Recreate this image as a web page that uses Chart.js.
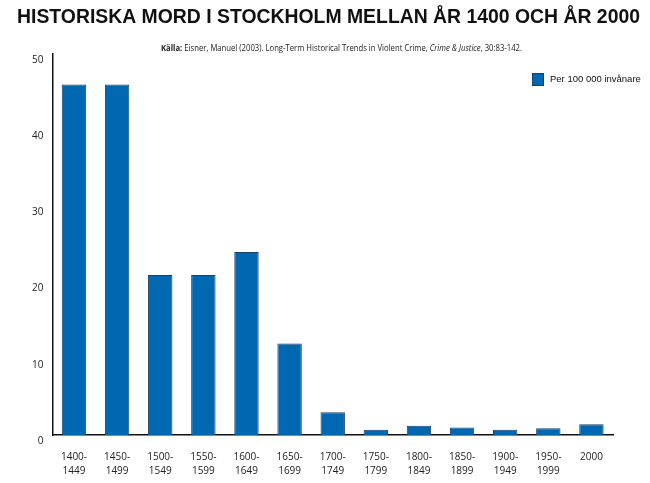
<!DOCTYPE html>
<html>
<head>
<meta charset="utf-8">
<script src="https://cdn.jsdelivr.net/npm/chart.js@4"></script>
<style>
  html, body { margin: 0; padding: 0; background: #fff; }
  #wrap { width: 650px; height: 483px; }
</style>
</head>
<body>
<div id="wrap"><canvas id="chart" width="650" height="483"></canvas></div>
<script>
const periods = [
  ['1400-', '1449'], ['1450-', '1499'], ['1500-', '1549'], ['1550-', '1599'],
  ['1600-', '1649'], ['1650-', '1699'], ['1700-', '1749'], ['1750-', '1799'],
  ['1800-', '1849'], ['1850-', '1899'], ['1900-', '1949'], ['1950-', '1999'],
  '2000'
];
const murderRate = [46, 46, 21, 21, 24, 12, 3, 0.7, 1.2, 1.0, 0.7, 0.9, 1.4];
const seriesName = 'Per 100 000 invånare';
const chartTitle = 'HISTORISKA MORD I STOCKHOLM MELLAN ÅR 1400 OCH ÅR 2000';
const sourceParts = [
  { text: 'Källa: ', style: 'bold' },
  { text: 'Eisner, Manuel (2003). Long-Term Historical Trends in Violent Crime, ', style: '' },
  { text: 'Crime & Justice', style: 'italic' },
  { text: ', 30:83-142.', style: '' }
];

const barBlue = '#0067b1';
const barEdge = '#1d3f66';

// title + source line; the original uses a narrow face, so both are squeezed to fit
const headerText = {
  id: 'headerText',
  afterDraw(chart) {
    const ctx = chart.ctx;
    ctx.save();
    ctx.fillStyle = '#111';
    ctx.textAlign = 'center';
    ctx.textBaseline = 'middle';
    ctx.font = 'bold 21px "Liberation Sans", Arial, sans-serif';
    ctx.fillText(chartTitle, 328.5, 17, 623);
    ctx.restore();

    const size = 9;
    let total = 0;
    sourceParts.forEach(p => {
      ctx.font = (p.style ? p.style + ' ' : '') + size + 'px "Open Sans"';
      p.w = ctx.measureText(p.text).width;
      total += p.w;
    });
    const sx = 361 / total;
    ctx.save();
    ctx.translate(161, 48);
    ctx.scale(sx, 1);
    ctx.fillStyle = '#222';
    ctx.textBaseline = 'middle';
    let x = 0;
    sourceParts.forEach(p => {
      ctx.font = (p.style ? p.style + ' ' : '') + size + 'px "Open Sans"';
      ctx.fillText(p.text, x, 0);
      x += p.w;
    });
    ctx.restore();
  }
};

// legend sits inside the plot, top right
const boxLegend = {
  id: 'boxLegend',
  afterDraw(chart) {
    const ctx = chart.ctx;
    const ds = chart.data.datasets[0];
    ctx.save();
    ctx.fillStyle = ds.backgroundColor;
    ctx.fillRect(532, 73, 12, 13);
    ctx.strokeStyle = ds.borderColor;
    ctx.lineWidth = 1;
    ctx.strokeRect(532.5, 73.5, 11, 12);
    ctx.fillStyle = '#111';
    ctx.font = '9.5px "Liberation Sans"';
    ctx.textBaseline = 'middle';
    ctx.fillText(ds.label, 550, 79.5);
    ctx.restore();
  }
};

const ctx = document.getElementById('chart');
new Chart(ctx, {
  type: 'bar',
  data: {
    labels: periods,
    datasets: [{
      label: seriesName,
      data: murderRate,
      backgroundColor: barBlue,
      borderColor: barEdge,
      borderWidth: 1,
      barPercentage: 0.566,
      categoryPercentage: 1
    }]
  },
  options: {
    responsive: false,
    animation: false,
    layout: { padding: { left: 23, right: 37, top: 54, bottom: -10 } },
    plugins: {
      legend: { display: false },
      tooltip: { enabled: false },
      title: { display: false }
    },
    scales: {
      x: {
        grid: { display: false, drawTicks: false },
        border: { display: true, color: '#111', width: 1.5 },
        ticks: {
          color: '#222',
          padding: 15,
          maxRotation: 0,
          autoSkip: false,
          font: { family: '"Open Sans"', size: 10, lineHeight: 1.4 }
        }
      },
      y: {
        min: 0,
        max: 50,
        grid: { display: false, drawTicks: false },
        border: { display: true, color: '#111', width: 1.5 },
        ticks: {
          stepSize: 10,
          color: '#222',
          padding: 9,
          labelOffset: 6,
          font: { family: '"Open Sans"', size: 10 }
        }
      }
    }
  },
  plugins: [headerText, boxLegend]
});
</script>
</body>
</html>
